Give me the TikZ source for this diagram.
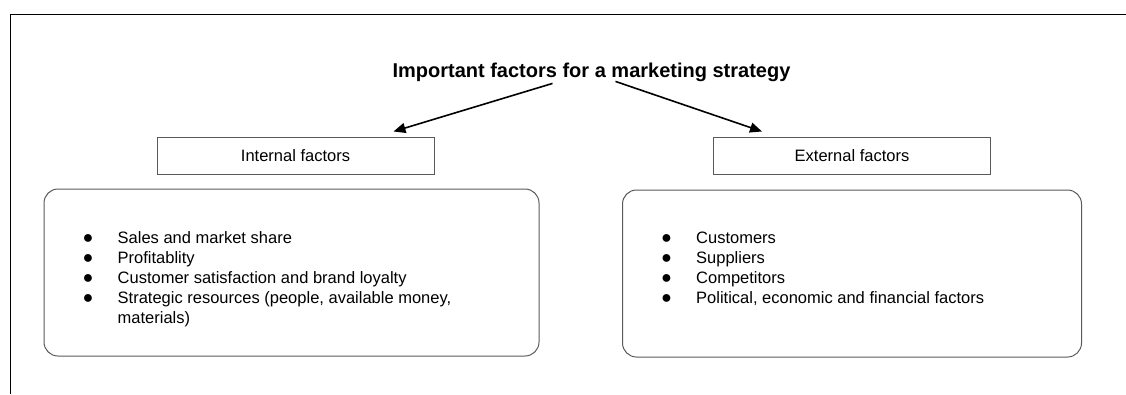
\documentclass[tikz,border=0pt]{standalone}
\usepackage{fontspec}
\setmainfont{Liberation Sans}
\usetikzlibrary{arrows.meta}
\usetikzlibrary{positioning}

\begin{document}
\begin{tikzpicture}[x=1pt,y=-1pt]
\tikzstyle{factor}=[rectangle,draw=black!65,line width=1pt,
minimum width=277pt,minimum height=37pt,inner sep=0pt,font=\fontsize{16.5}{20}\selectfont]
\tikzstyle{group}=[rectangle,rounded corners=14pt,draw=black!65,line width=1pt,
minimum height=167pt]
\tikzstyle{items}=[anchor=north west,inner sep=0pt,font=\fontsize{16.5}{20}\selectfont]
\tikzstyle{pointer}=[-{Triangle[length=12pt,width=10pt]},line width=1.6pt]
\newcommand{\dotmark}{{\fontsize{18}{20}\selectfont ●}}
\useasboundingbox (0,0) rectangle (1126,394);
\draw[line width=1pt] (10,394) -- (10,14) -- (1126,14);
\node[anchor=base,inner sep=0pt,font=\bfseries\fontsize{20}{24}\selectfont] (title) at (591.5,77) {Important factors for a marketing strategy};
\node[factor] (internal) at (295.5,155.5) {Internal factors};
\node[factor] (external) at (852,155.5) {External factors};
\node[group,minimum width=495pt] (internal list) [below=14pt of internal,xshift=-4pt] {};
\node[group,minimum width=459pt] (external list) [below=15pt of external] {};
\node[items] (internal items) at ([xshift=39pt,yshift=-41pt]internal list.north west) {%
\begin{tabular}{@{}p{35pt}@{}l@{}}
\dotmark & Sales and market share\\
\dotmark & Profitablity\\
\dotmark & Customer satisfaction and brand loyalty\\
\dotmark & Strategic resources (people, available money,\\
 & materials)
\end{tabular}};
\node[items] (external items) at ([xshift=39pt,yshift=-40pt]external list.north west) {%
\begin{tabular}{@{}p{35pt}@{}l@{}}
\dotmark & Customers\\
\dotmark & Suppliers\\
\dotmark & Competitors\\
\dotmark & Political, economic and financial factors
\end{tabular}};
\draw[pointer] ([xshift=-39pt,yshift=-2pt]title.south) -- ([xshift=98pt,yshift=5pt]internal.north);
\draw[pointer] ([xshift=24pt]title.south) -- ([xshift=-90pt,yshift=5pt]external.north);
\end{tikzpicture}
\end{document}
